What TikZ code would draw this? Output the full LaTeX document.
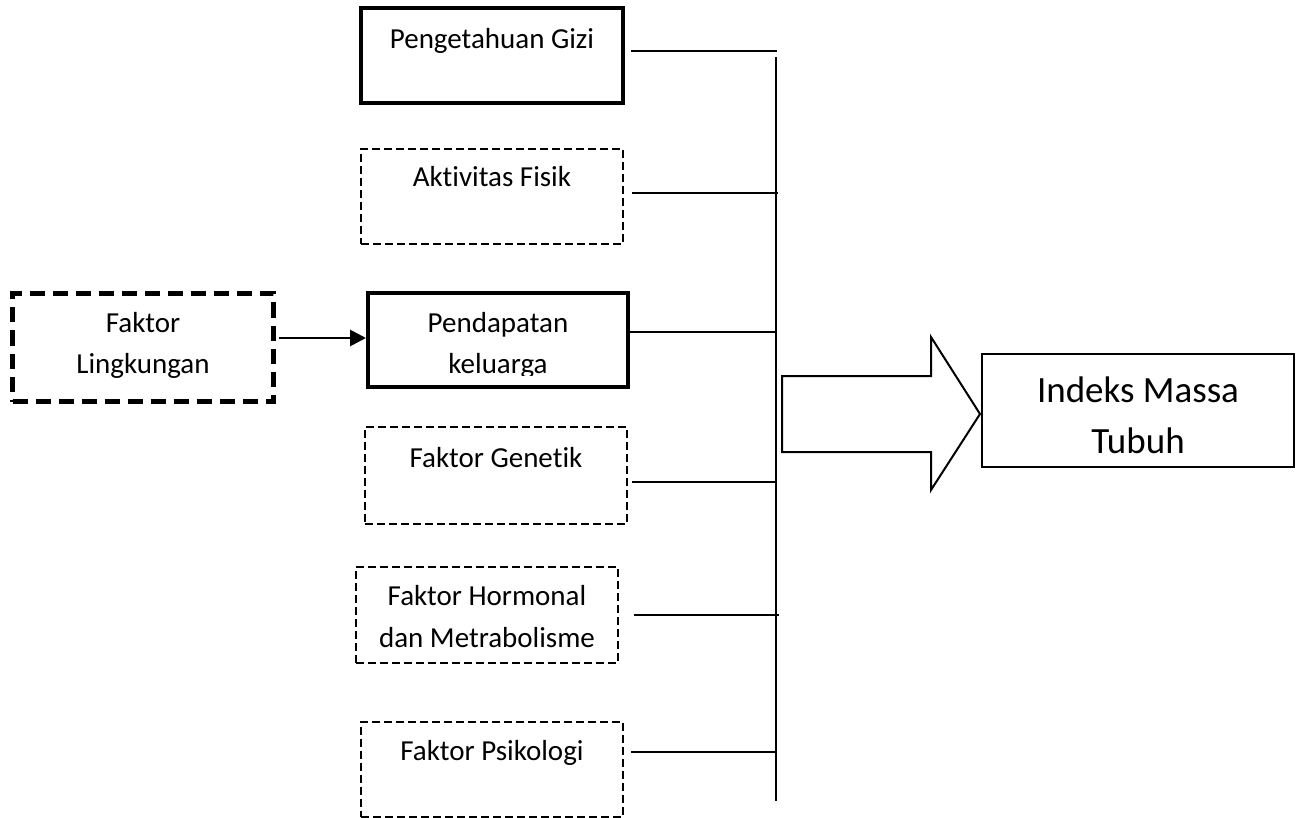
\documentclass[tikz,border=0pt]{standalone}
\usepackage{fontspec}
\setmainfont{Carlito}[RawFeature={-liga}]
\usetikzlibrary{arrows.meta}
\begin{document}
\begin{tikzpicture}[x=0.5pt,y=-0.5pt,
  box/.style={rectangle,inner sep=0pt,outer sep=0pt,minimum width=131pt,minimum height=47.5pt},
  thickbox/.style={box,draw,line width=2pt},
  dashbox/.style={box,draw,line width=0.8pt,dash pattern=on 4pt off 2pt},
  thickdash/.style={box,draw,line width=2.5pt,dash pattern=on 7.5pt off 4pt},
  txt/.style={anchor=base,inner sep=0pt,font=\fontsize{14.5pt}{20.5pt}\selectfont,align=center},
  bigtxt/.style={anchor=base,inner sep=0pt,font=\fontsize{18.5pt}{25pt}\selectfont,align=center},
  conn/.style={line width=1pt},
  arr/.style={line width=1.4pt,-{Triangle[length=8pt,width=8pt]}}
]
\useasboundingbox (0,0) rectangle (1301,818);

% boxes
\node[thickbox] (pg) at (492,55.5) {};
\node[dashbox] (af) at (492,196.5) {};
\node[thickdash,minimum width=130.5pt,minimum height=54pt] (fl) at (143,347.5) {};
\node[thickbox,minimum width=130pt,minimum height=47pt] (pk) at (498,340) {};
\node[dashbox,minimum height=48.5pt] (fg) at (496,475.5) {};
\node[dashbox,minimum height=48pt] (fh) at (487,615) {};
\node[dashbox] (fp) at (492,769.5) {};
\node[box,draw,line width=1pt,minimum width=156pt,minimum height=56.5pt] (imt) at (1138,410.5) {};

% texts
\node[txt] (tpg) at (492,49) {Pengetahuan Gizi};
\node[txt] (taf) at (492,187) {Aktivitas Fisik};
\node[txt] (tfl1) at (143,333) {Faktor};
\node[txt] (tfl2) at (143,373) {Lingkungan};
\node[txt] (tpk1) at (498,333) {Pendapatan};
\begin{scope}
  \clip (300,340) rectangle (700,375.5);
  \node[txt] (tpk2) at (498,373) {keluarga};
\end{scope}
\node[txt] (tfg) at (496,467) {Faktor Genetik};
\node[txt] (tfh1) at (487,605) {Faktor Hormonal};
\node[txt] (tfh2) at (487,647) {dan Metrabolisme};
\node[txt] (tfp) at (492,760) {Faktor Psikologi};
\node[bigtxt] (timt1) at (1138,402) {Indeks Massa};
\node[bigtxt] (timt2) at (1138,453) {Tubuh};

% bus coordinates
\coordinate (bt) at (776,57);
\coordinate (bb) at (776,801);
\coordinate (a1) at (631,51);  \coordinate (b1) at (777,51);
\coordinate (a2) at (632,193); \coordinate (b2) at (778,193);
\coordinate (a3) at (629,332); \coordinate (b3) at (777,332);
\coordinate (a4) at (632,482); \coordinate (b4) at (777,482);
\coordinate (a5) at (634,615); \coordinate (b5) at (779,615);
\coordinate (a6) at (631,752); \coordinate (b6) at (777,752);
\coordinate (ay) at (0,338);

\draw[conn] (bt) -- (bb);
\draw[conn] (a1) -- (b1);
\draw[conn] (a2) -- (b2);
\draw[conn] (a3) -- (b3);
\draw[conn] (a4) -- (b4);
\draw[conn] (a5) -- (b5);
\draw[conn] (a6) -- (b6);

% arrow from Faktor Lingkungan to Pendapatan
\draw[arr,shorten <=2.75pt,shorten >=1pt] (fl.east |- ay) -- (pk.west |- ay);

% big block arrow
\draw[line width=1pt,line join=miter] (782,376) -- (931,376) -- (931,337) -- (980,414) -- (931,490) -- (931,452) -- (782,452) -- cycle;
\end{tikzpicture}
\end{document}
